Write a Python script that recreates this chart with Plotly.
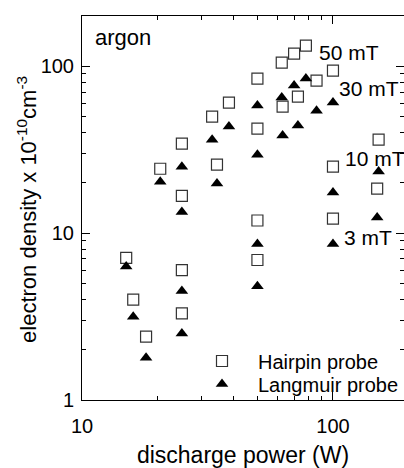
import plotly.graph_objects as go
import math

# ---- data ----
hairpin_power = [15, 16, 18, 20.5, 25, 25, 25, 25, 33, 34.5, 38.5,
                 50, 50, 50, 50, 62.5, 63, 70, 72.5, 78, 86,
                 100, 100, 100, 152, 150]
hairpin_density = [7.1, 4.0, 2.4, 24.3, 16.7, 6.0, 3.3, 34.4, 49.9, 25.7, 60.6,
                   84.4, 42.3, 11.9, 6.9, 105, 57.3, 119, 65.8, 133, 82.1,
                   94.2, 25.0, 12.2, 36.3, 18.5]

langmuir_power = [15, 16, 18, 20.5, 25, 25, 25, 25, 33, 34.5, 38.5,
                  50, 50, 50, 50, 62.5, 63, 70, 72.5, 78, 86,
                  100, 100, 100, 152, 150]
langmuir_density = [6.3, 3.15, 1.79, 20.3, 25.0, 13.4, 4.5, 2.5, 36.3, 19.8, 43.5,
                    58.1, 29.5, 8.6, 4.8, 64.9, 38.4, 76.6, 44.1, 84.4, 54.2,
                    60.6, 17.5, 8.6, 23.4, 12.4]

x_tickvals = [10, 100]
x_ticktext = ["10", "100"]
x_minor_vals = [20, 30, 40, 50, 60, 70, 80, 90, 200]
y_tickvals = [1, 10, 100]
y_ticktext = ["1", "10", "100"]
y_minor_vals = [2, 3, 4, 5, 6, 7, 8, 9, 20, 30, 40, 50, 60, 70, 80, 90]

field_labels = ["50 mT", "30 mT", "10 mT", "3 mT"]
field_label_pos = [(0.730, 0.904), (0.792, 0.8125), (0.810, 0.630), (0.807, 0.422)]

FONT = "Liberation Sans, Arial, Helvetica, sans-serif"

fig = go.Figure()
fig.add_trace(go.Scatter(
    x=hairpin_power, y=hairpin_density, mode="markers", name="Hairpin probe",
    legend="legend",
    marker=dict(symbol="square-open", size=11, color="#333333", line=dict(width=1.2, color="#333333")),
))
fig.add_trace(go.Scatter(
    x=langmuir_power, y=langmuir_density, mode="markers", name="Langmuir probe",
    legend="legend2",
    marker=dict(symbol="triangle-up", size=11, color="black", line=dict(width=0)),
))

axis_common = dict(
    type="log", showgrid=False, zeroline=False, showline=True, linecolor="black",
    linewidth=1, ticks="inside", ticklen=8, tickwidth=1, tickcolor="black",
    mirror="allticks", automargin=False,
    tickfont=dict(family=FONT, size=20, color="black"),
)

fig.update_xaxes(
    **axis_common,
    range=[1, 2.283],
    tickvals=x_tickvals, ticktext=x_ticktext, ticklabelstandoff=8,
    minor=dict(ticks="inside", ticklen=4, tickwidth=1, tickcolor="black",
               showgrid=False, tickvals=x_minor_vals),
    title=dict(text="discharge power (W)", font=dict(family=FONT, size=23, color="black"), standoff=17),
)
fig.update_yaxes(
    **axis_common,
    range=[0, math.log10(200)],
    tickvals=y_tickvals, ticktext=y_ticktext, ticklabelstandoff=3,
    minor=dict(ticks="inside", ticklen=4, tickwidth=1, tickcolor="black",
               showgrid=False, tickvals=y_minor_vals),
)

annotations = [dict(text="electron density x 10<sup>-10</sup>cm<sup>-3</sup>",
                    x=-0.1708, y=0.495, xref="paper", yref="paper", textangle=-90,
                    xanchor="center", yanchor="middle", showarrow=False,
                    font=dict(family=FONT, size=22, color="black")),
               dict(text="argon", x=0.034, y=0.943, xref="paper", yref="paper",
                    xanchor="left", yanchor="middle", showarrow=False,
                    font=dict(family=FONT, size=22, color="black"))]
for lab, (ax, ay) in zip(field_labels, field_label_pos):
    annotations.append(dict(text=lab, x=ax, y=ay, xref="paper", yref="paper",
                            xanchor="left", yanchor="middle", showarrow=False,
                            font=dict(family=FONT, size=21, color="black")))

legend_style = dict(xanchor="right", yanchor="middle",
                    bgcolor="rgba(0,0,0,0)", borderwidth=0, itemwidth=62,
                    font=dict(family=FONT, size=20, color="black"))

fig.update_layout(
    width=404, height=468,
    margin=dict(l=82, r=0, t=16, b=68),
    paper_bgcolor="white", plot_bgcolor="white",
    showlegend=True,
    legend=dict(x=0.9379, y=0.1016, **legend_style),
    legend2=dict(x=1.0, y=0.0417, **legend_style),
    annotations=annotations,
)

fig.write_html("out.html")
